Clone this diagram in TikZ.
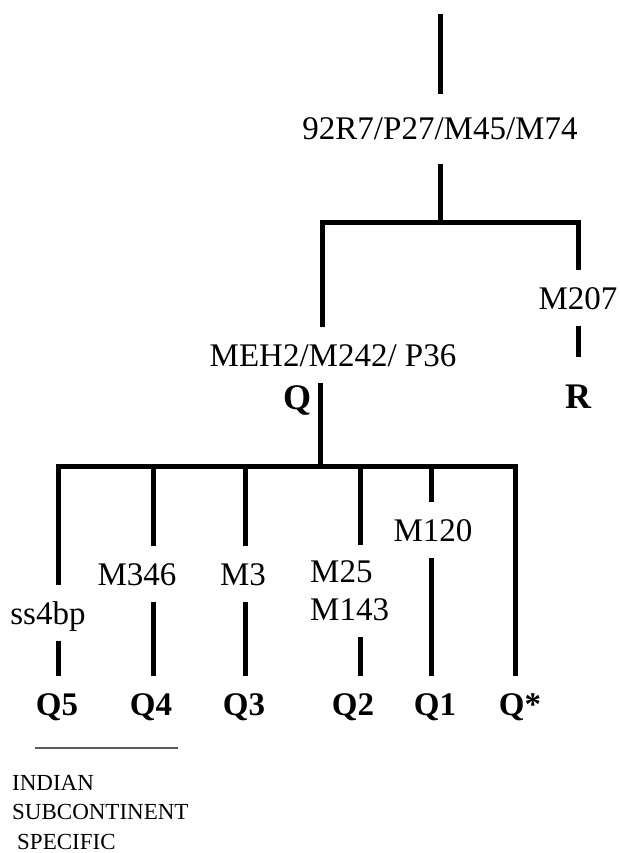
\documentclass[tikz,border=0pt]{standalone}
\usepackage{fontspec}
\setmainfont{Liberation Serif}
\usepackage{tikz}
\usetikzlibrary{calc, positioning}
\usepackage{xcolor}
\definecolor{noteline}{RGB}{90, 90, 90}
\tikzset{
  branch/.style={line width=5pt, line join=miter},
  snp/.style={font=\fontsize{33}{38}\selectfont, inner xsep=2pt, inner ysep=16pt},
  marker/.style={snp, text height=22pt, text depth=0pt, inner ysep=16.5pt},
  clade/.style={font=\bfseries\fontsize{33}{38}\selectfont, text height=22pt, text depth=0pt, inner xsep=2pt, inner ysep=17pt},
  bigclade/.style={clade, font=\bfseries\fontsize{36}{40}\selectfont, text height=23pt, inner ysep=28pt}
}

\begin{document}
\begin{tikzpicture}[x=1pt, y=-1pt]
  \useasboundingbox (0,0) rectangle (619,853);
  % root and first split
  \coordinate (top) at (440,14);
  \node[marker, inner ysep=24pt] (root) at (440,129) {92R7/P27/M45/M74};
  \coordinate (split1) at (440,222);
  \coordinate (Qjoin) at (322,222);
  \coordinate (Rjoin) at (578,222);
  \draw[branch] (top) -- (root.north);
  \draw[branch] (root.south) -- (split1);

  \node[marker] (meh) at (333,355) {MEH2/M242/ P36};
  \node[marker] (m207) at (578,298) {M207};
  \node[bigclade] (R) at (578,397) {R};
  \node[bigclade, inner ysep=6pt] (Q) at (297,398) {Q};
  \draw[branch] (Qjoin |- meh.north) -- (Qjoin) -- (Rjoin) -- (Rjoin |- m207.north);
  \draw[branch] (m207.south) -- (R.north);

  % Q subclades
  \coordinate (split3) at (320,466);
  \draw[branch] (split3 |- meh.south) -- (split3);
  \coordinate (b5) at (58,466);
  \coordinate (b4) at (153,466);
  \coordinate (b3) at (245,466);
  \coordinate (b2) at (360,466);
  \coordinate (b1) at (431,466);
  \coordinate (bstar) at (515,466);

  \node[marker] (ss4) at (48,613) {ss4bp};
  \node[marker] (m346) at (137,574) {M346};
  \node[marker] (m3) at (243,574) {M3};
  \node[snp, align=left, anchor=west] (m25) at (308,591) {M25\\M143};
  \node[marker] (m120) at (433,530) {M120};

  \node[clade] (q5) at (57,704) {Q5};
  \node[clade] (q4) at (151,704) {Q4};
  \node[clade] (q3) at (244,704) {Q3};
  \node[clade] (q2) at (353,704) {Q2};
  \node[clade] (q1) at (435,704) {Q1};
  \node[clade] (qstar) at (520,704) {Q*};

  \draw[branch] (b5 |- ss4.north) -- (b5) -- (bstar) -- (bstar |- qstar.north);
  \draw[branch] (b5 |- ss4.south) -- (b5 |- q5.north);
  \draw[branch] (b4) -- (b4 |- m346.north);
  \draw[branch] (b4 |- m346.south) -- (b4 |- q4.north);
  \draw[branch] (b3) -- (b3 |- m3.north);
  \draw[branch] (b3 |- m3.south) -- (b3 |- q3.north);
  \draw[branch] (b2) -- (b2 |- m25.north);
  \draw[branch] (b2 |- m25.south) -- (b2 |- q2.north);
  \draw[branch] (b1) -- (b1 |- m120.north);
  \draw[branch] (b1 |- m120.south) -- (b1 |- q1.north);

  % Q5/Q4 note
  \coordinate (noteL) at (35,748);
  \coordinate (noteR) at (178,748);
  \draw[noteline, line width=2pt] (noteL) -- (noteR);
  \node[font=\fontsize{23}{29.5}\selectfont, align=left, anchor=north west, inner sep=0pt] (note) at (12,775)
    {INDIAN\\SUBCONTINENT\\\hspace{5pt}SPECIFIC};
\end{tikzpicture}
\end{document}
